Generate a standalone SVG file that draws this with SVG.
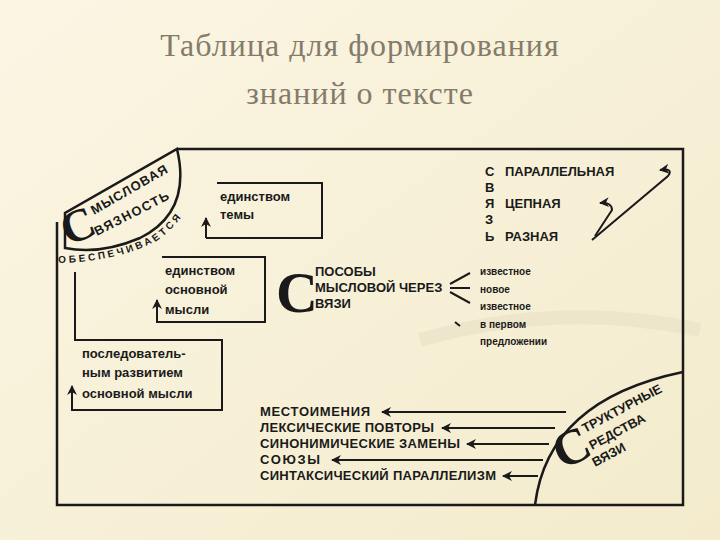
<svg xmlns="http://www.w3.org/2000/svg" width="720" height="540" viewBox="0 0 720 540">
<defs>
<linearGradient id="bg" x1="0" y1="0" x2="1" y2="1"><stop offset="0" stop-color="#fbf6e4"/><stop offset="1" stop-color="#f3ebcc"/></linearGradient>
<marker id="au" viewBox="0 0 10 10" refX="9" refY="5" markerWidth="5" markerHeight="5" orient="auto"><path d="M10,5 L0,0 L3,5 L0,10 Z" fill="#1a1a1a"/></marker>
</defs>
<style>
.ln{fill:none;stroke:#1a1a1a;stroke-width:2.5}
.th{fill:none;stroke:#1a1a1a;stroke-width:2}
.t{font-family:"Liberation Sans",Arial,sans-serif;font-weight:bold;font-size:13px;fill:#1a1a1a}
.s{font-family:"Liberation Sans",Arial,sans-serif;font-weight:bold;font-size:10px;fill:#1a1a1a}
.sf{font-family:"Liberation Serif",serif;font-weight:bold;fill:#1a1a1a}
.title{font-family:"Liberation Serif",serif;font-size:32px;fill:#857b6b;text-anchor:middle;letter-spacing:1px}
</style>
<rect width="720" height="540" fill="url(#bg)"/>
<path d="M420,340 Q560,300 700,330" fill="none" stroke="#ebe2c8" stroke-width="14" opacity="0.7"/>
<text class="title" x="360" y="56">Таблица для формирования</text>
<text class="title" x="360" y="104">знаний о тексте</text>

<g id="frame">
<path class="ln" d="M177,149 L683,149 L683,505 L57,505 L57,222"/>
</g>
<g id="smyslovaya">
<path class="ln" d="M65,248 L65,213 L177,149 Q192,212 140,238 Q100,255 65,248 Z"/>
<text class="sf" font-size="46" transform="translate(68,246) rotate(-22)">С</text>
<text class="t" font-size="16" transform="translate(94,215) rotate(-30)" textLength="86">МЫСЛОВАЯ</text>
<text class="t" font-size="16" transform="translate(97,236) rotate(-27)" textLength="82">ВЯЗНОСТЬ</text>
<path id="arcp" d="M58,263 Q118,262 158,240 Q188,218 201,180" fill="none"/>
<text class="s" font-size="10" letter-spacing="2.9"><textPath href="#arcp">ОБЕСПЕЧИВАЕТСЯ</textPath></text>
</g>
<g id="connectors">
<path class="th" d="M206,238 L206,218" marker-end="url(#au)"/>
<path class="th" d="M217,183 L322,183 L322,238 L206,238"/>
<path class="th" d="M162,257 L265,257 L265,322 L157,322 L157,300" marker-end="url(#au)"/>
<path class="th" d="M75,272 L75,340 L222,340 L222,410 L72,410 L72,386" marker-end="url(#au)"/>
<path class="th" d="M592,240 L668,176 Q674,168 660,170" marker-end="url(#au)"/>
<path class="th" d="M595,236 L612,210 Q612,202 600,203" marker-end="url(#au)"/>
<path class="th" d="M450,284 L470,273 M450,288 L470,288 M450,292 L470,303 M455,322 L460,326"/>
<path class="th" d="M566,412 L382,412" marker-end="url(#au)"/>
<path class="th" d="M555,428 L442,428" marker-end="url(#au)"/>
<path class="th" d="M549,444 L467,444" marker-end="url(#au)"/>
<path class="th" d="M543,460 L332,460" marker-end="url(#au)"/>
<path class="th" d="M538,476 L503,476" marker-end="url(#au)"/>
</g>
<g id="box1"><text class="t" x="220" y="201">единством</text><text class="t" x="220" y="219">темы</text></g>
<g id="box2"><text class="t" x="165" y="275">единством</text><text class="t" x="165" y="294">основной</text><text class="t" x="165" y="314">мысли</text></g>
<g id="box3"><text class="t" x="82" y="358">последователь-</text><text class="t" x="82" y="377">ным развитием</text><text class="t" x="82" y="398">основной мысли</text></g>
<g id="svyaz">
<text class="t" font-size="14" x="485" y="176">С</text><text class="t" font-size="14" x="485" y="192">В</text><text class="t" font-size="14" x="485" y="208">Я</text><text class="t" font-size="14" x="485" y="224">З</text><text class="t" font-size="14" x="485" y="241">Ь</text>
<text class="t" font-size="14" x="505" y="176">ПАРАЛЛЕЛЬНАЯ</text>
<text class="t" font-size="14" x="505" y="208">ЦЕПНАЯ</text>
<text class="t" font-size="14" x="505" y="241">РАЗНАЯ</text>
</g>
<g id="sposoby">
<text class="sf" font-size="58" x="276" y="312">С</text>
<text class="t" font-size="12" x="315" y="276">ПОСОБЫ</text>
<text class="t" font-size="12" x="315" y="292">МЫСЛОВОЙ ЧЕРЕЗ</text>
<text class="t" font-size="12" x="315" y="308">ВЯЗИ</text>
<text class="s" x="480" y="275">известное</text><text class="s" x="480" y="293">новое</text><text class="s" x="480" y="310">известное</text><text class="s" x="480" y="328">в первом</text><text class="s" x="480" y="345">предложении</text>
</g>
<g id="struktur">
<path class="ln" d="M535,505 Q548,400 683,372"/>
<text class="sf" font-size="50" transform="translate(562,470) rotate(-25)">С</text>
<text class="t" font-size="13" transform="translate(585,433) rotate(-28)">ТРУКТУРНЫЕ</text>
<text class="t" font-size="13" transform="translate(592,450) rotate(-28)">РЕДСТВА</text>
<text class="t" font-size="13" transform="translate(595,467) rotate(-28)">ВЯЗИ</text>
</g>
<g id="list">
<text class="t" font-size="12" x="260" y="416" textLength="110">МЕСТОИМЕНИЯ</text>
<text class="t" font-size="12" x="260" y="432" textLength="174">ЛЕКСИЧЕСКИЕ ПОВТОРЫ</text>
<text class="t" font-size="12" x="260" y="448" textLength="200">СИНОНИМИЧЕСКИЕ ЗАМЕНЫ</text>
<text class="t" font-size="12" x="260" y="464" textLength="60">СОЮЗЫ</text>
<text class="t" font-size="12" x="260" y="480" textLength="236">СИНТАКСИЧЕСКИЙ ПАРАЛЛЕЛИЗМ</text>
</g>
</svg>
